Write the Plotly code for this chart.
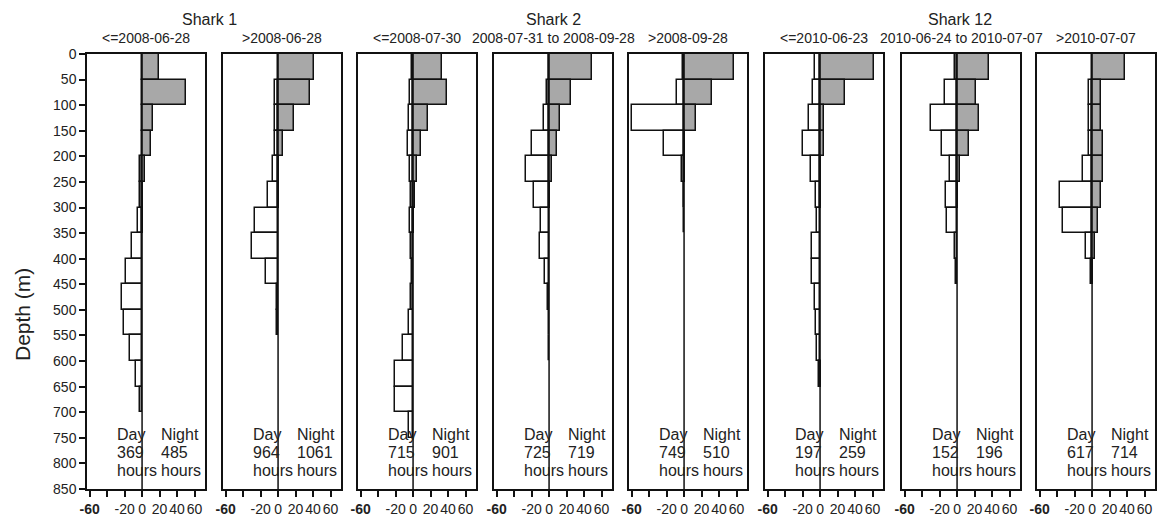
import plotly.graph_objects as go

# ---------------- data ----------------
depth_bins = [0, 50, 100, 150, 200, 250, 300, 350, 400, 450, 500, 550, 600, 650, 700, 750, 800]
y_ticks = [0, 50, 100, 150, 200, 250, 300, 350, 400, 450, 500, 550, 600, 650, 700, 750, 800, 850]
x_ticks = [-60, -40, -20, 0, 20, 40, 60]
x_tick_text = ["<b>-60</b>", "", "-20", "0", "20", "40", "60"]

panel_labels = ["<=2008-06-28", ">2008-06-28", "<=2008-07-30", "2008-07-31 to 2008-09-28",
                ">2008-09-28", "<=2010-06-23", "2010-06-24 to 2010-07-07", ">2010-07-07"]
shark_names = ["Shark 1", "Shark 2", "Shark 12"]
day_hours = [369, 964, 715, 725, 749, 197, 152, 617]
night_hours = [485, 1061, 901, 719, 510, 259, 196, 714]

# percent of time per 50 m depth bin (day shown negative, night positive)
day_p1 = [0, 0, 0, 0, -2.5, -2.5, -4.5, -11, -18, -23.5, -21, -13.5, -6.5, -2, 0, 0, 0]
night_p1 = [19.5, 50, 13, 10, 3.5, 1.5, 0.5, 0, 0, 0, 0, 0, 0, 0, 0, 0, 0]
day_p2 = [0, -3, -4, -4, -5.5, -12, -26, -30, -13.5, -1, -1, 0, 0, 0, 0, 0, 0]
night_p2 = [41, 36, 18.5, 5.5, 1.5, 0.5, 0, 0, 0, 0, 0, 0, 0, 0, 0, 0, 0]
day_p3 = [-1, -4, -5, -5.5, -3, -2.5, -4, -2, -1.5, -2.5, -5, -11, -21, -21, -4.5, 0, 0]
night_p3 = [33, 38.5, 17, 9.5, 5, 2, 0.5, 0.3, 0.3, 0.3, 0, 0, 0, 0, 0, 0, 0]
day_p4 = [-0.5, -2, -6, -19, -26, -17, -9, -10.5, -5, -1, -0.5, -0.5, 0, 0, 0, 0, 0]
night_p4 = [49, 25.5, 13, 9.5, 3, 0.5, 0, 0, 0, 0, 0, 0, 0, 0, 0, 0, 0]
day_p5 = [-1.5, -8, -59.5, -22.5, -2, -0.5, -0.3, 0, 0, 0, 0, 0, 0, 0, 0, 0, 0]
night_p5 = [57, 32, 13.5, 1.5, 1, 0.3, 0, 0, 0, 0, 0, 0, 0, 0, 0, 0, 0]
day_p6 = [-5.5, -8.5, -13, -19.5, -10.5, -4.5, -4, -9, -9, -5.5, -4.5, -4, -1.5, 0, 0, 0, 0]
night_p6 = [62, 28, 5, 4.5, 0.5, 0.5, 0, 0, 0, 0, 0, 0, 0.5, 0, 0, 0, 0]
day_p7 = [-2, -13.5, -30, -17, -8.5, -13, -11, -2.5, -1.5, 0, 0, 0, 0, 0, 0, 0, 0]
night_p7 = [36, 21.5, 25.5, 14, 3.8, 0.8, 0, 0, 0, 0, 0, 0, 0, 0, 0, 0, 0]
day_p8 = [0, -3, -3.5, -3.5, -10.5, -36.5, -33, -6.5, -1.5, 0, 0, 0, 0, 0, 0, 0, 0]
night_p8 = [37.5, 10.5, 10, 12, 13, 10, 7, 3.5, 0.8, 0, 0, 0, 0, 0, 0, 0, 0]

day_series = [day_p1, day_p2, day_p3, day_p4, day_p5, day_p6, day_p7, day_p8]
night_series = [night_p1, night_p2, night_p3, night_p4, night_p5, night_p6, night_p7, night_p8]

# ---------------- layout ----------------
W, H = 1159, 517
FONT = "Arial, Liberation Sans, sans-serif"
TXT = "#222222"
LINE = "#111111"
GRAY = "#a8a8a8"

panel_left_px = [87, 223, 358, 494, 629, 765, 902, 1037]
panel_w_px = 118
plot_top_px, plot_bot_px = 54, 489

fig = go.Figure()
centers = [b + 25 for b in depth_bins]

def clean(vals):
    return [v if v != 0 else None for v in vals]

for i in range(8):
    k = "" if i == 0 else str(i + 1)
    xa, ya = "x" + k, "y" + k
    fig.add_trace(go.Bar(
        y=centers, x=clean(day_series[i]), orientation="h", width=50,
        marker=dict(color="white", line=dict(color=LINE, width=1.5)),
        xaxis=xa, yaxis=ya, showlegend=False, hoverinfo="x+y"))
    fig.add_trace(go.Bar(
        y=centers, x=clean(night_series[i]), orientation="h", width=50,
        marker=dict(color=GRAY, line=dict(color=LINE, width=1.5)),
        xaxis=xa, yaxis=ya, showlegend=False, hoverinfo="x+y"))

layout = dict(
    width=W, height=H, margin=dict(l=0, r=0, t=0, b=0, autoexpand=False),
    paper_bgcolor="white", plot_bgcolor="white", barmode="overlay", bargap=0,
    font=dict(family=FONT, color=TXT, size=14),
)
shapes, annotations = [], []
y_dom = [1 - plot_bot_px / H, 1 - plot_top_px / H]

def yd(px):
    return (px - plot_top_px) / (plot_bot_px - plot_top_px) * 850

for i in range(8):
    k = "" if i == 0 else str(i + 1)
    x0 = panel_left_px[i] / W
    x1 = (panel_left_px[i] + panel_w_px) / W
    layout["xaxis" + k] = dict(
        domain=[x0, x1], range=[-63, 72], anchor="y" + k, automargin=False,
        showline=True, mirror=True, linecolor=LINE, linewidth=1.5,
        showgrid=False, zeroline=False,
        ticks="outside", ticklen=6, tickwidth=1.5, tickcolor=LINE, tickangle=0,
        tickvals=x_ticks, ticktext=x_tick_text, tickfont=dict(size=14, color=TXT),
        fixedrange=True,
    )
    layout["yaxis" + k] = dict(
        domain=y_dom, range=[850, 0], anchor="x" + k, automargin=False,
        showline=True, mirror=True, linecolor=LINE, linewidth=1.5,
        showgrid=False, zeroline=False, fixedrange=True,
        ticks="outside" if i == 0 else "", ticklen=6, tickwidth=1.5, tickcolor=LINE,
        tickvals=y_ticks, showticklabels=(i == 0), tickfont=dict(size=14, color=TXT),
    )
    shapes.append(dict(type="line", xref="x" + k, yref="y" + k, x0=0, x1=0, y0=0, y1=850,
                       line=dict(color=LINE, width=1.5), layer="above"))
    # subtitle
    annotations.append(dict(text=panel_labels[i], xref="paper", yref="paper",
                            x=(panel_left_px[i] + panel_w_px / 2) / W, y=1 - 38 / H,
                            xanchor="center", yanchor="middle", showarrow=False,
                            font=dict(size=14, color=TXT)))
    # day/night text
    for j, (dtxt, ntxt) in enumerate([("Day", "Night"),
                                      (str(day_hours[i]), str(night_hours[i])),
                                      ("hours", "hours")]):
        ypx = 434 + 18 * j
        annotations.append(dict(text=dtxt, xref="x" + k, yref="y" + k, x=-31, y=yd(ypx),
                                xanchor="left", yanchor="middle", showarrow=False,
                                font=dict(size=16, color=TXT)))
        annotations.append(dict(text=ntxt, xref="x" + k, yref="y" + k, x=19.5, y=yd(ypx),
                                xanchor="left", yanchor="middle", showarrow=False,
                                font=dict(size=16, color=TXT)))

# shark titles
shark_x_px = [209, 553, 960]
for name, xp in zip(shark_names, shark_x_px):
    annotations.append(dict(text=name, xref="paper", yref="paper", x=xp / W, y=1 - 19 / H,
                            xanchor="center", yanchor="middle", showarrow=False,
                            font=dict(size=16, color=TXT)))

# y axis title
annotations.append(dict(text="Depth (m)", xref="paper", yref="paper", x=22 / W, y=1 - 315 / H,
                        xanchor="center", yanchor="middle", textangle=-90, showarrow=False,
                        font=dict(size=21, color=TXT)))

layout["shapes"] = shapes
layout["annotations"] = annotations
fig.update_layout(**layout)
fig.write_html("out.html")
